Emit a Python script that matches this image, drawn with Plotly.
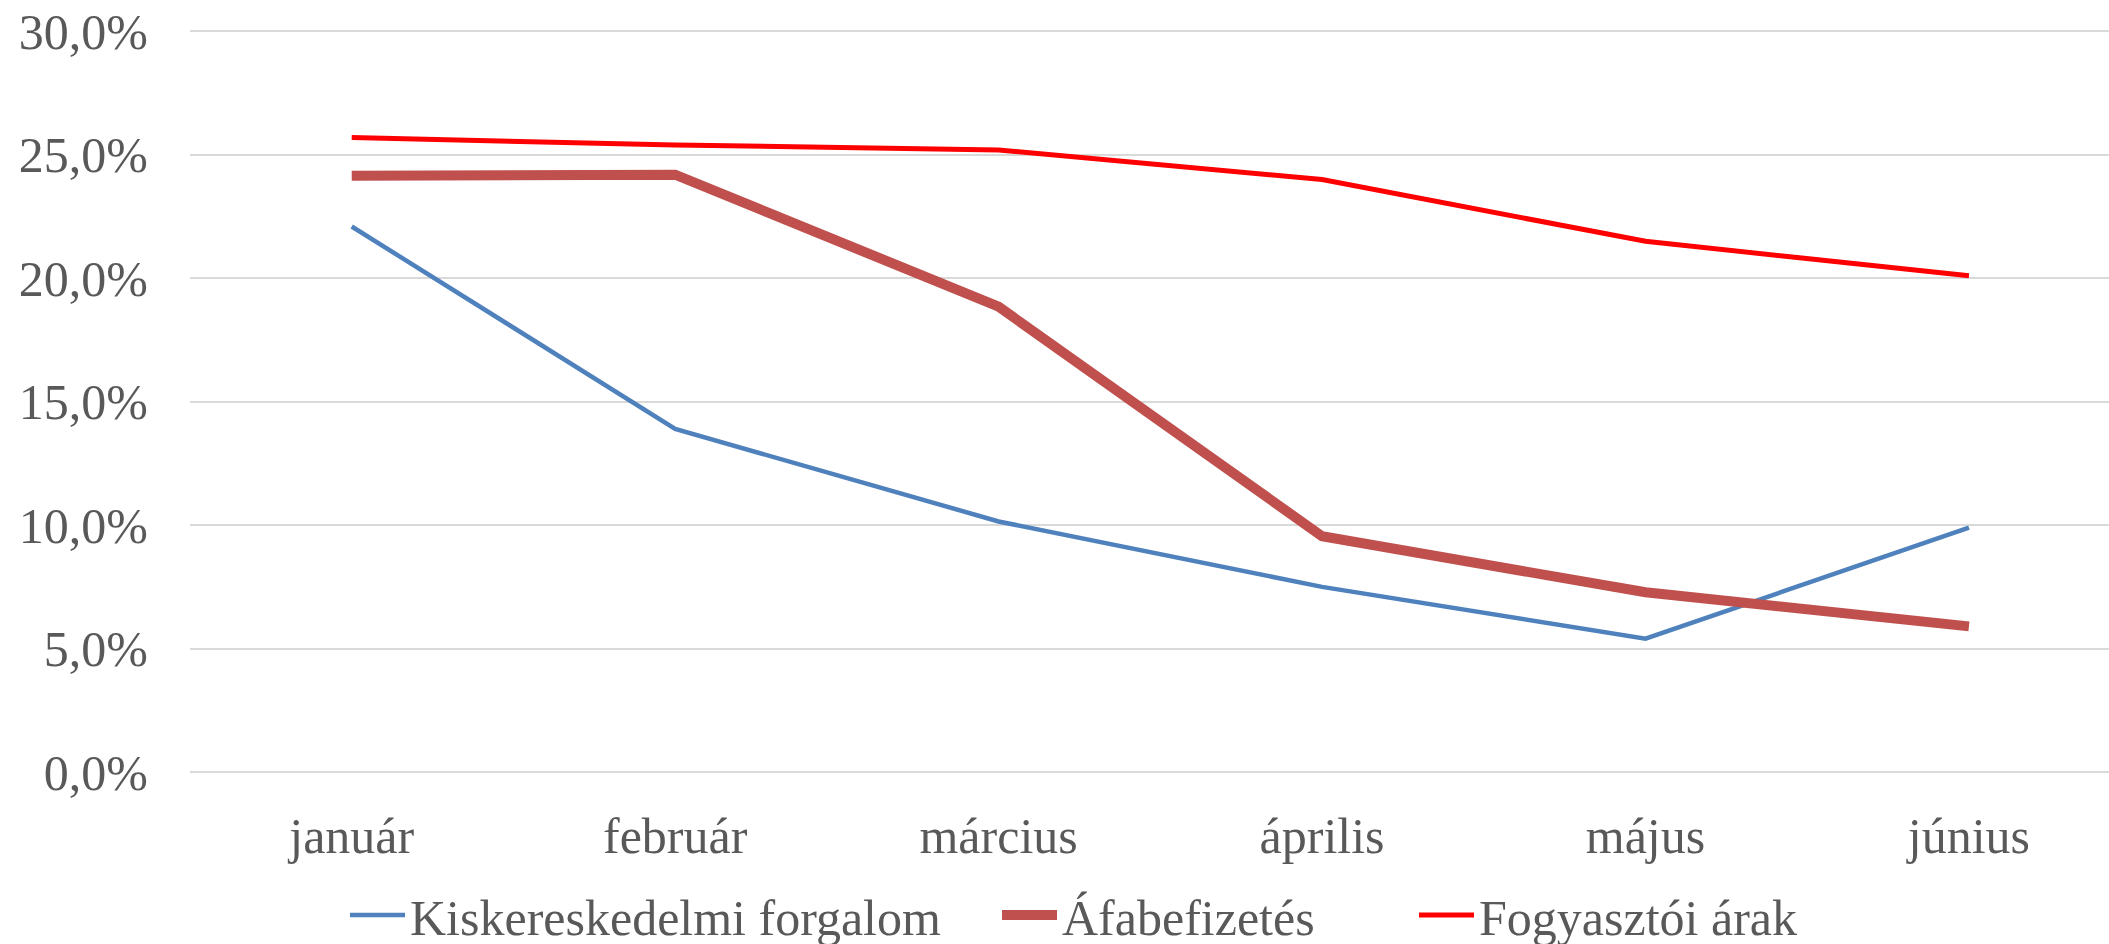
import plotly.graph_objects as go

months = ["január", "február", "március", "április", "május", "június"]
kisker = [22.1, 13.9, 10.15, 7.5, 5.4, 9.9]
afa = [24.15, 24.2, 18.85, 9.55, 7.28, 5.9]
fogy = [25.7, 25.4, 25.2, 24.0, 21.5, 20.1]
y_ticks = [0, 5, 10, 15, 20, 25, 30]
y_ticktext = ["0,0%", "5,0%", "10,0%", "15,0%", "20,0%", "25,0%", "30,0%"]

FONT = "Liberation Serif"
TXT = "#595959"
W, H = 2109, 944

fig = go.Figure()
fig.add_trace(go.Scatter(x=months, y=kisker, mode="lines", name="Kiskereskedelmi forgalom",
                         line=dict(color="#4F81BD", width=4.5), legend="legend"))
fig.add_trace(go.Scatter(x=months, y=afa, mode="lines", name="Áfabefizetés",
                         line=dict(color="#C0504D", width=10), legend="legend2"))
fig.add_trace(go.Scatter(x=months, y=fogy, mode="lines", name="Fogyasztói árak",
                         line=dict(color="#FF0000", width=5), legend="legend3"))

def leg(px):
    return dict(orientation="h", xref="container", yref="container",
                x=px / W, xanchor="left", y=1 - 915 / H, yanchor="middle",
                font=dict(family=FONT, size=50, color=TXT), itemwidth=55,
                bgcolor="rgba(0,0,0,0)", borderwidth=0)

fig.update_layout(
    width=W, height=H,
    margin=dict(l=190, r=0, t=29, b=172, autoexpand=False),
    paper_bgcolor="white", plot_bgcolor="white",
    font=dict(family=FONT, size=50, color=TXT),
    showlegend=True,
    legend=leg(345), legend2=leg(997), legend3=leg(1414),
    xaxis=dict(type="category", range=[-0.5, 5.433], showgrid=False, zeroline=False,
               showline=False, ticks="", ticklabelstandoff=30,
               tickfont=dict(family=FONT, size=50, color=TXT)),
    yaxis=dict(range=[0, 30.1], tickvals=y_ticks, ticktext=y_ticktext, showgrid=True,
               gridcolor="#D9D9D9", gridwidth=2, zeroline=True, zerolinecolor="#D9D9D9",
               zerolinewidth=2, showline=False,
               ticks="", ticklabelstandoff=41,
               tickfont=dict(family=FONT, size=50, color=TXT)),
)

fig.write_html("out.html", config={"displayModeBar": False},
               post_script="document.body.style.margin='0';document.body.style.overflow='hidden';")
